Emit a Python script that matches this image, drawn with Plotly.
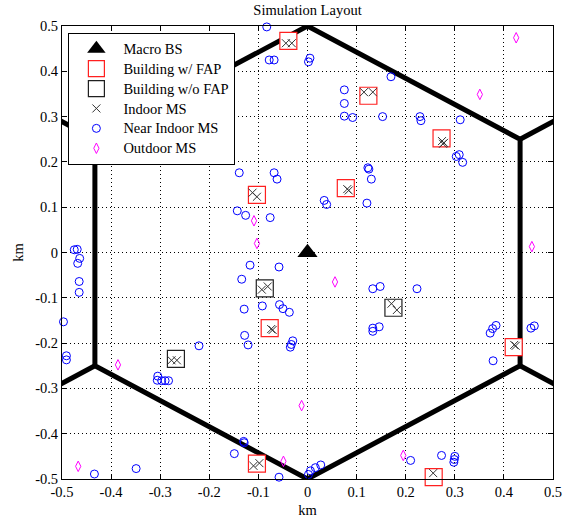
import plotly.graph_objects as go

# Cell boundary (hexagon of radius 0.5 km) plus the spokes toward neighbouring cells
cell_x = [0, 0.433, 0.433, 0, -0.433, -0.433, 0, None,
          0, 0, None, 0.433, 0.606, None, 0.433, 0.606, None,
          0, 0, None, -0.433, -0.606, None, -0.433, -0.606]
cell_y = [0.5, 0.25, -0.25, -0.5, -0.25, 0.25, 0.5, None,
          0.5, 0.7, None, 0.25, 0.35, None, -0.25, -0.35, None,
          -0.5, -0.7, None, -0.25, -0.35, None, 0.25, 0.35]

# Macro base station
bs_x = [0.0]
bs_y = [0.0]

# Buildings with a femto access point
fap_x = [-0.039, 0.124, 0.273, -0.103, 0.078, -0.077, 0.420, -0.103, 0.257]
fap_y = [0.467, 0.346, 0.252, 0.127, 0.142, -0.167, -0.209, -0.466, -0.496]

# Buildings without a femto access point
nofap_x = [-0.087, -0.268, 0.175]
nofap_y = [-0.079, -0.235, -0.122]

# Indoor mobile stations
indoor_x = [-0.044, -0.032, 0.115, 0.133, 0.274, 0.278, 0.276, -0.112, -0.103,
            0.081, 0.084, -0.074, -0.071, 0.421, 0.424, -0.110, -0.098,
            0.256, 0.264, -0.093, -0.081, -0.277, -0.266, 0.171, 0.182]
indoor_y = [0.462, 0.462, 0.354, 0.354, 0.246, 0.242, 0.240, 0.132, 0.123,
            0.140, 0.137, -0.169, -0.171, -0.204, -0.206, -0.471, -0.465,
            -0.487, -0.502, -0.082, -0.075, -0.238, -0.238, -0.113, -0.127]

# Mobile stations near buildings
near_x = [-0.083, -0.078, -0.068, 0.005, 0.002, 0.170, 0.075, 0.075, 0.075, 0.092,
          0.153, 0.229, 0.231, 0.311, 0.303, 0.309, 0.316, -0.139, -0.068, -0.062,
          0.123, 0.125, 0.130, -0.143, -0.126, -0.076, 0.034, 0.039, 0.121,
          -0.475, -0.469, -0.464, -0.468, -0.465, -0.465,
          -0.117, -0.058, -0.134, 0.133, 0.148, 0.223,
          -0.129, -0.092, -0.057, -0.050, -0.037, 0.133, 0.133, 0.146,
          -0.128, -0.121, -0.030, -0.035, -0.033, -0.221,
          -0.305, -0.306, -0.297, -0.290, -0.283,
          0.372, 0.377, 0.384, 0.455, 0.462, 0.378,
          -0.497, -0.491, -0.491, -0.130, -0.129, -0.149,
          -0.349, -0.434, -0.058, 0.002, 0.006, 0.016, 0.027,
          0.210, 0.273, 0.300, 0.299, 0.298]
near_y = [0.498, 0.425, 0.425, 0.429, 0.421, 0.388, 0.359, 0.329, 0.301, 0.298,
          0.300, 0.300, 0.291, 0.293, 0.212, 0.216, 0.199, 0.176, 0.176, 0.162,
          0.187, 0.184, 0.162, 0.092, 0.082, 0.077, 0.115, 0.106, 0.109,
          0.006, 0.007, -0.013, -0.024, -0.064, -0.088,
          -0.028, -0.032, -0.059, -0.080, -0.075, -0.080,
          -0.125, -0.118, -0.115, -0.124, -0.132, -0.167, -0.174, -0.164,
          -0.183, -0.204, -0.195, -0.209, -0.203, -0.206,
          -0.273, -0.282, -0.283, -0.283, -0.283,
          -0.178, -0.168, -0.161, -0.167, -0.162, -0.239,
          -0.153, -0.228, -0.237, -0.417, -0.420, -0.444,
          -0.477, -0.489, -0.496, -0.490, -0.482, -0.475, -0.469,
          -0.459, -0.448, -0.450, -0.457, -0.463]

# Outdoor mobile stations
out_x = [-0.109, -0.103, 0.425, 0.351, 0.457, 0.056, -0.012, 0.195, -0.049, -0.386, -0.467]
out_y = [0.070, 0.020, 0.474, 0.349, 0.013, -0.065, -0.338, -0.448, -0.461, -0.248, -0.472]

# Axis ticks
tick_vals = [-0.5, -0.4, -0.3, -0.2, -0.1, 0, 0.1, 0.2, 0.3, 0.4, 0.5]
tick_text = ["-0.5", "-0.4", "-0.3", "-0.2", "-0.1", "0", "0.1", "0.2", "0.3", "0.4", "0.5"]

FONT = "Liberation Serif, Times New Roman, serif"
FS = 14.5
LEG_ROW_FS = 13.0  # sets the legend row pitch; labels themselves use FS


def legend_label(text):
    return '<span style="font-size:%.1fpx">%s</span>' % (FS, text)


fig = go.Figure()

fig.add_trace(go.Scatter(x=cell_x, y=cell_y, mode="lines",
                         line=dict(color="black", width=5),
                         showlegend=False, hoverinfo="skip"))

fig.add_trace(go.Scatter(x=bs_x, y=bs_y, mode="markers", name=legend_label("Macro BS"),
                         cliponaxis=False,
                         marker=dict(symbol="triangle-up", size=17.5, color="black",
                                     line=dict(width=0))))

fig.add_trace(go.Scatter(x=fap_x, y=fap_y, mode="markers",
                         name=legend_label("Building w/ FAP"), cliponaxis=False,
                         marker=dict(symbol="square", size=17, color="white",
                                     line=dict(color="#ff2020", width=1.2))))

fig.add_trace(go.Scatter(x=nofap_x, y=nofap_y, mode="markers",
                         name=legend_label("Building w/o FAP"), cliponaxis=False,
                         marker=dict(symbol="square", size=17, color="white",
                                     line=dict(color="#202020", width=1.2))))

fig.add_trace(go.Scatter(x=indoor_x, y=indoor_y, mode="markers",
                         name=legend_label("Indoor MS"), cliponaxis=False,
                         marker=dict(symbol="x-thin-open", size=8, color="#333333",
                                     line=dict(color="#333333", width=1))))

fig.add_trace(go.Scatter(x=near_x, y=near_y, mode="markers",
                         name=legend_label("Near Indoor MS"), cliponaxis=False,
                         marker=dict(symbol="circle-open", size=8, color="#0000ff",
                                     line=dict(color="#0000ff", width=1))))

fig.add_trace(go.Scatter(x=out_x, y=out_y, mode="markers",
                         name=legend_label("Outdoor MS"), cliponaxis=False,
                         marker=dict(symbol="diamond-tall-open", size=7.5, color="#ff00ff",
                                     line=dict(color="#ff00ff", width=1))))

axis_common = dict(
    range=[-0.5, 0.5], tickvals=tick_vals, ticktext=tick_text, automargin=False,
    showgrid=True, gridcolor="black", gridwidth=1, griddash="1px,3px",
    zeroline=False, showline=True, linecolor="black", linewidth=1,
    mirror="ticks", ticks="inside", ticklen=5, tickwidth=1, tickcolor="black",
    tickfont=dict(family=FONT, size=FS, color="black"),
)

fig.update_layout(
    width=570, height=520,
    margin=dict(l=62, r=17, t=26, b=41, autoexpand=False),
    paper_bgcolor="white", plot_bgcolor="white",
    font=dict(family=FONT, size=FS, color="black"),
    title=dict(text="Simulation Layout", x=0.5, xref="paper",
               y=1 - 10 / 520, yref="container", yanchor="middle",
               font=dict(family=FONT, size=FS, color="black")),
    xaxis=dict(**axis_common, title=dict(text="km", standoff=5,
                                         font=dict(family=FONT, size=FS))),
    yaxis=dict(**axis_common, title=dict(text="km", standoff=8,
                                         font=dict(family=FONT, size=FS))),
    legend=dict(x=0.013, y=0.985, xanchor="left", yanchor="top",
                bgcolor="white", bordercolor="black", borderwidth=1,
                itemwidth=44, font=dict(family=FONT, size=LEG_ROW_FS, color="black")),
    showlegend=True,
)

fig.write_html("out.html")
